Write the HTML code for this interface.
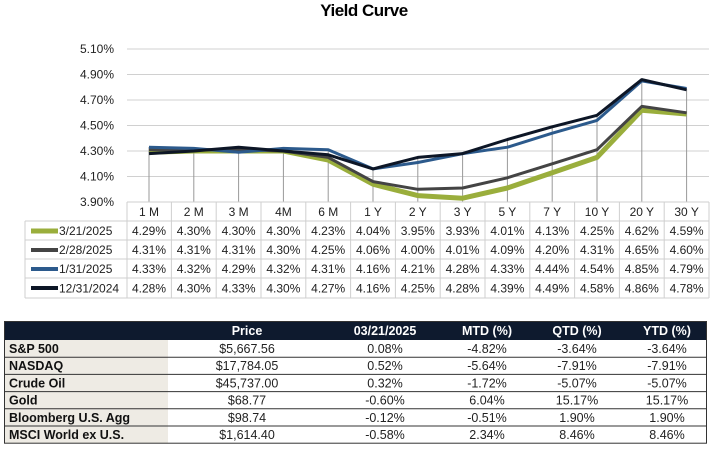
<!DOCTYPE html>
<html><head><meta charset="utf-8"><style>
body{margin:0;width:711px;height:451px;background:#fff;font-family:"Liberation Sans",sans-serif;position:relative;overflow:hidden}
.t{position:absolute;white-space:nowrap}
</style></head><body>
<div class="t" style="left:0;width:728px;top:1px;text-align:center;font-weight:bold;font-size:17px;letter-spacing:-0.5px;color:#000">Yield Curve</div>
<svg width="711" height="310" style="position:absolute;left:0;top:0" font-family="Liberation Sans, sans-serif">
<g stroke="#d0d0d0" stroke-width="1">
<line x1="127" y1="49" x2="709" y2="49"/><line x1="127" y1="74.5" x2="709" y2="74.5"/><line x1="127" y1="100" x2="709" y2="100"/><line x1="127" y1="125.5" x2="709" y2="125.5"/><line x1="127" y1="151" x2="709" y2="151"/><line x1="127" y1="176.5" x2="709" y2="176.5"/>
</g>
<g font-size="12" fill="#222" text-anchor="end">
<text x="114" y="53">5.10%</text><text x="114" y="78.5">4.90%</text><text x="114" y="104">4.70%</text><text x="114" y="129.5">4.50%</text><text x="114" y="155">4.30%</text><text x="114" y="180.5">4.10%</text><text x="114" y="206">3.90%</text>
</g>
<g stroke="#999" stroke-width="1">
<line x1="149" y1="147" x2="149" y2="202"/><line x1="193.8" y1="148" x2="193.8" y2="202"/><line x1="238.6" y1="147" x2="238.6" y2="202"/><line x1="283.4" y1="148" x2="283.4" y2="202"/><line x1="328.2" y1="150" x2="328.2" y2="202"/><line x1="373" y1="169" x2="373" y2="202"/><line x1="417.8" y1="157" x2="417.8" y2="202"/><line x1="462.6" y1="153" x2="462.6" y2="202"/><line x1="507.4" y1="140" x2="507.4" y2="202"/><line x1="552.2" y1="127" x2="552.2" y2="202"/><line x1="597" y1="115" x2="597" y2="202"/><line x1="641.8" y1="80" x2="641.8" y2="202"/><line x1="686.6" y1="89" x2="686.6" y2="202"/>
</g>
<g fill="none" stroke-linejoin="round">
<polyline stroke="#9aae3c" stroke-width="5" points="149,152.3 193.8,151 238.6,151 283.4,151 328.2,160 373,184.2 417.8,195.6 462.6,198.2 507.4,188 552.2,172.7 597,157.4 641.8,110.2 686.6,114"/>
<polyline stroke="#444" stroke-width="3" points="149,149.7 193.8,149.7 238.6,149.7 283.4,151 328.2,157.4 373,181.6 417.8,189.3 462.6,188 507.4,177.8 552.2,163.8 597,149.7 641.8,106.4 686.6,112.8"/>
<polyline stroke="#2c5a8c" stroke-width="3" points="149,147.2 193.8,148.4 238.6,152.3 283.4,148.4 328.2,149.7 373,168.9 417.8,162.5 462.6,153.6 507.4,147.2 552.2,133.2 597,120.4 641.8,80.9 686.6,88.5"/>
<polyline stroke="#0d1626" stroke-width="3" points="149,153.6 193.8,151 238.6,147.2 283.4,151 328.2,154.8 373,168.9 417.8,157.4 462.6,153.6 507.4,139.5 552.2,126.8 597,115.3 641.8,79.6 686.6,89.8"/>
</g>
<g stroke="#cfcfcf" stroke-width="1" fill="none">
<line x1="127" y1="202" x2="709" y2="202"/>
<line x1="25" y1="221" x2="709" y2="221"/><line x1="25" y1="240" x2="709" y2="240"/><line x1="25" y1="259" x2="709" y2="259"/><line x1="25" y1="278" x2="709" y2="278"/><line x1="25" y1="298" x2="709" y2="298"/>
<line x1="25" y1="221" x2="25" y2="298"/>
<line x1="127" y1="202" x2="127" y2="298"/><line x1="171.4" y1="202" x2="171.4" y2="298"/><line x1="216.2" y1="202" x2="216.2" y2="298"/><line x1="261" y1="202" x2="261" y2="298"/><line x1="305.8" y1="202" x2="305.8" y2="298"/><line x1="350.6" y1="202" x2="350.6" y2="298"/><line x1="395.4" y1="202" x2="395.4" y2="298"/><line x1="440.2" y1="202" x2="440.2" y2="298"/><line x1="485" y1="202" x2="485" y2="298"/><line x1="529.8" y1="202" x2="529.8" y2="298"/><line x1="574.6" y1="202" x2="574.6" y2="298"/><line x1="619.4" y1="202" x2="619.4" y2="298"/><line x1="664.2" y1="202" x2="664.2" y2="298"/><line x1="709" y1="202" x2="709" y2="298"/>
</g>
<g stroke-width="4">
<line x1="31" y1="231" x2="58" y2="231" stroke="#9aae3c" stroke-width="5"/>
<line x1="31" y1="250" x2="58" y2="250" stroke="#444"/>
<line x1="31" y1="269" x2="58" y2="269" stroke="#2c5a8c"/>
<line x1="31" y1="288" x2="58" y2="288" stroke="#0d1626"/>
</g>
<g font-size="12" fill="#222">
<text x="59" y="235">3/21/2025</text><text x="59" y="254">2/28/2025</text><text x="59" y="273">1/31/2025</text><text x="59" y="292.5">12/31/2024</text>
</g>
<g font-size="12" fill="#222" text-anchor="middle">
<text x="149" y="216">1 M</text><text x="193.8" y="216">2 M</text><text x="238.6" y="216">3 M</text><text x="283.4" y="216">4M</text><text x="328.2" y="216">6 M</text><text x="373" y="216">1 Y</text><text x="417.8" y="216">2 Y</text><text x="462.6" y="216">3 Y</text><text x="507.4" y="216">5 Y</text><text x="552.2" y="216">7 Y</text><text x="597" y="216">10 Y</text><text x="641.8" y="216">20 Y</text><text x="686.6" y="216">30 Y</text>
</g>
<g font-size="12" fill="#222" text-anchor="middle">
<g transform="translate(0,235)"><text x="149">4.29%</text><text x="193.8">4.30%</text><text x="238.6">4.30%</text><text x="283.4">4.30%</text><text x="328.2">4.23%</text><text x="373">4.04%</text><text x="417.8">3.95%</text><text x="462.6">3.93%</text><text x="507.4">4.01%</text><text x="552.2">4.13%</text><text x="597">4.25%</text><text x="641.8">4.62%</text><text x="686.6">4.59%</text></g>
<g transform="translate(0,254)"><text x="149">4.31%</text><text x="193.8">4.31%</text><text x="238.6">4.31%</text><text x="283.4">4.30%</text><text x="328.2">4.25%</text><text x="373">4.06%</text><text x="417.8">4.00%</text><text x="462.6">4.01%</text><text x="507.4">4.09%</text><text x="552.2">4.20%</text><text x="597">4.31%</text><text x="641.8">4.65%</text><text x="686.6">4.60%</text></g>
<g transform="translate(0,273)"><text x="149">4.33%</text><text x="193.8">4.32%</text><text x="238.6">4.29%</text><text x="283.4">4.32%</text><text x="328.2">4.31%</text><text x="373">4.16%</text><text x="417.8">4.21%</text><text x="462.6">4.28%</text><text x="507.4">4.33%</text><text x="552.2">4.44%</text><text x="597">4.54%</text><text x="641.8">4.85%</text><text x="686.6">4.79%</text></g>
<g transform="translate(0,292.5)"><text x="149">4.28%</text><text x="193.8">4.30%</text><text x="238.6">4.33%</text><text x="283.4">4.30%</text><text x="328.2">4.27%</text><text x="373">4.16%</text><text x="417.8">4.25%</text><text x="462.6">4.28%</text><text x="507.4">4.39%</text><text x="552.2">4.49%</text><text x="597">4.58%</text><text x="641.8">4.86%</text><text x="686.6">4.78%</text></g>
</g>
</svg>
<svg width="711" height="140" style="position:absolute;left:0;top:311px" font-family="Liberation Sans, sans-serif" font-size="12.5">
<rect x="4" y="10" width="703" height="19" fill="#0e1a2e"/>
<rect x="4" y="29" width="164" height="103.2" fill="#eeebe4"/>
<g fill="#fff" font-weight="bold" text-anchor="middle"><text x="247" y="24">Price</text><text x="385" y="24">03/21/2025</text><text x="487" y="24">MTD (%)</text><text x="577" y="24">QTD (%)</text><text x="667" y="24">YTD (%)</text></g>
<g stroke="#333" stroke-width="1" fill="none">
<rect x="4.5" y="10.5" width="702" height="121.7"/>
<line x1="4" y1="46.2" x2="707" y2="46.2"/><line x1="4" y1="63.4" x2="707" y2="63.4"/><line x1="4" y1="80.6" x2="707" y2="80.6"/><line x1="4" y1="97.8" x2="707" y2="97.8"/><line x1="4" y1="115" x2="707" y2="115"/>
</g>
<g font-weight="bold" fill="#111"><text x="9" y="42">S&amp;P 500</text><text x="9" y="59.2">NASDAQ</text><text x="9" y="76.4">Crude Oil</text><text x="9" y="93.6">Gold</text><text x="9" y="110.8">Bloomberg U.S. Agg</text><text x="9" y="128">MSCI World ex U.S.</text></g>
<g fill="#222" text-anchor="middle">
<g transform="translate(0,42)"><text x="247">$5,667.56</text><text x="385">0.08%</text><text x="487">-4.82%</text><text x="577">-3.64%</text><text x="667">-3.64%</text></g>
<g transform="translate(0,59.2)"><text x="247">$17,784.05</text><text x="385">0.52%</text><text x="487">-5.64%</text><text x="577">-7.91%</text><text x="667">-7.91%</text></g>
<g transform="translate(0,76.4)"><text x="247">$45,737.00</text><text x="385">0.32%</text><text x="487">-1.72%</text><text x="577">-5.07%</text><text x="667">-5.07%</text></g>
<g transform="translate(0,93.6)"><text x="247">$68.77</text><text x="385">-0.60%</text><text x="487">6.04%</text><text x="577">15.17%</text><text x="667">15.17%</text></g>
<g transform="translate(0,110.8)"><text x="247">$98.74</text><text x="385">-0.12%</text><text x="487">-0.51%</text><text x="577">1.90%</text><text x="667">1.90%</text></g>
<g transform="translate(0,128)"><text x="247">$1,614.40</text><text x="385">-0.58%</text><text x="487">2.34%</text><text x="577">8.46%</text><text x="667">8.46%</text></g>
</g>
</svg>
</body></html>
